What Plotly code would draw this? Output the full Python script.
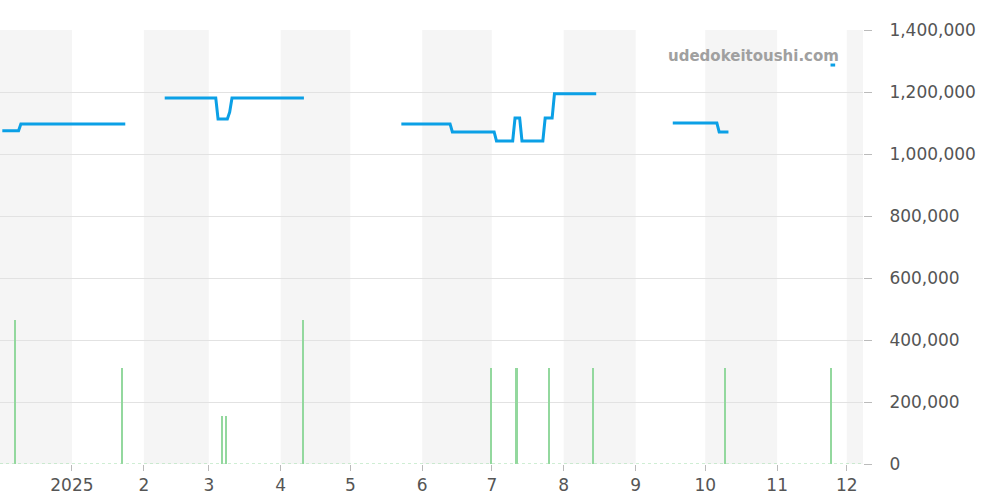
import plotly.graph_objects as go

# price series (None = gap)
price_dates = [
    "2024-12-02", "2024-12-09", "2024-12-10", "2025-01-24", None,
    "2025-02-10", "2025-03-04", "2025-03-05", "2025-03-09", "2025-03-10", "2025-03-11", "2025-04-11", None,
    "2025-05-23", "2025-06-13", "2025-06-14", "2025-07-02", "2025-07-03", "2025-07-10",
    "2025-07-11", "2025-07-13", "2025-07-14", "2025-07-23", "2025-07-24", "2025-07-27",
    "2025-07-28", "2025-08-15", None,
    "2025-09-17", "2025-10-06", "2025-10-07", "2025-10-11", None,
    "2025-11-24", "2025-11-26",
]
price_values = [
    1075000, 1075000, 1097000, 1097000, None,
    1181000, 1181000, 1113000, 1113000, 1135000, 1181000, 1181000, None,
    1097000, 1097000, 1071000, 1071000, 1042000, 1042000,
    1116000, 1116000, 1042000, 1042000, 1116000, 1116000,
    1194000, 1194000, None,
    1100000, 1100000, 1071000, 1071000, None,
    1287000, 1287000,
]

# trade volume bars
bar_dates = ["2024-12-07T18:00", "2025-01-22T18:00", "2025-03-06T18:00", "2025-03-08T12:00",
             "2025-04-10T18:00", "2025-06-30T18:00", "2025-07-11T18:00", "2025-07-25T18:00",
             "2025-08-13T18:00", "2025-10-09T18:00", "2025-11-24T12:00"]
bar_values = [465000, 310000, 155000, 155000, 465000,
              310000, 310000, 310000, 310000, 310000, 310000]

month_starts = ["2024-12-01", "2025-01-01", "2025-02-01", "2025-03-01", "2025-04-01", "2025-05-01",
                "2025-06-01", "2025-07-01", "2025-08-01", "2025-09-01", "2025-10-01", "2025-11-01",
                "2025-12-01", "2026-01-01"]
tick_vals = month_starts[1:13]
tick_text = ["2025", "2", "3", "4", "5", "6", "7", "8", "9", "10", "11", "12"]

fig = go.Figure()

fig.add_trace(go.Bar(x=bar_dates, y=bar_values, marker_color="#93d89e", marker_line_width=0,
                     width=0.7 * 86400000, showlegend=False, hoverinfo="skip"))
fig.add_trace(go.Scatter(x=price_dates, y=price_values, mode="lines",
                         line=dict(color="#0ba0e6", width=3), connectgaps=False, showlegend=False))

# alternating month shading
for i in range(0, len(month_starts) - 1, 2):
    fig.add_vrect(x0=month_starts[i], x1=month_starts[i + 1], fillcolor="#f5f5f5",
                  line_width=0, layer="below")

fig.add_shape(type="line", xref="paper", x0=0, x1=1, y0=0, y1=0,
              line=dict(color="#9fdca9", width=1, dash="dot"))

fig.add_annotation(text="udedokeitoushi.com", xref="paper", yref="paper", x=0.975, y=0.965,
                   showarrow=False, xanchor="right",
                   font=dict(size=15, color="#a0a0a0", family="DejaVu Sans", weight="bold"))

fig.update_layout(
    width=1000, height=500,
    margin=dict(l=0, r=137, t=30, b=36),
    plot_bgcolor="white", paper_bgcolor="white",
    bargap=0,
    font=dict(family="DejaVu Sans", color="#555", size=17),
    xaxis=dict(range=["2024-12-01", "2025-12-08"], tickvals=tick_vals, ticktext=tick_text,
               showgrid=False, ticks="outside", ticklen=6, tickcolor="#bbb", zeroline=False,
               automargin=False),
    yaxis=dict(side="right", range=[0, 1400000], tickvals=list(range(0, 1400001, 200000)),
               tickformat=",", gridcolor="#e2e2e2", ticks="outside", ticklen=8,
               tickcolor="#bbb", zeroline=False, automargin=False, ticklabelstandoff=14),
)

# drop the page's default body margin so the chart sits at the window corner
fig.write_html("out.html", config={"displayModeBar": False},
               post_script="document.body.style.margin='0';")
